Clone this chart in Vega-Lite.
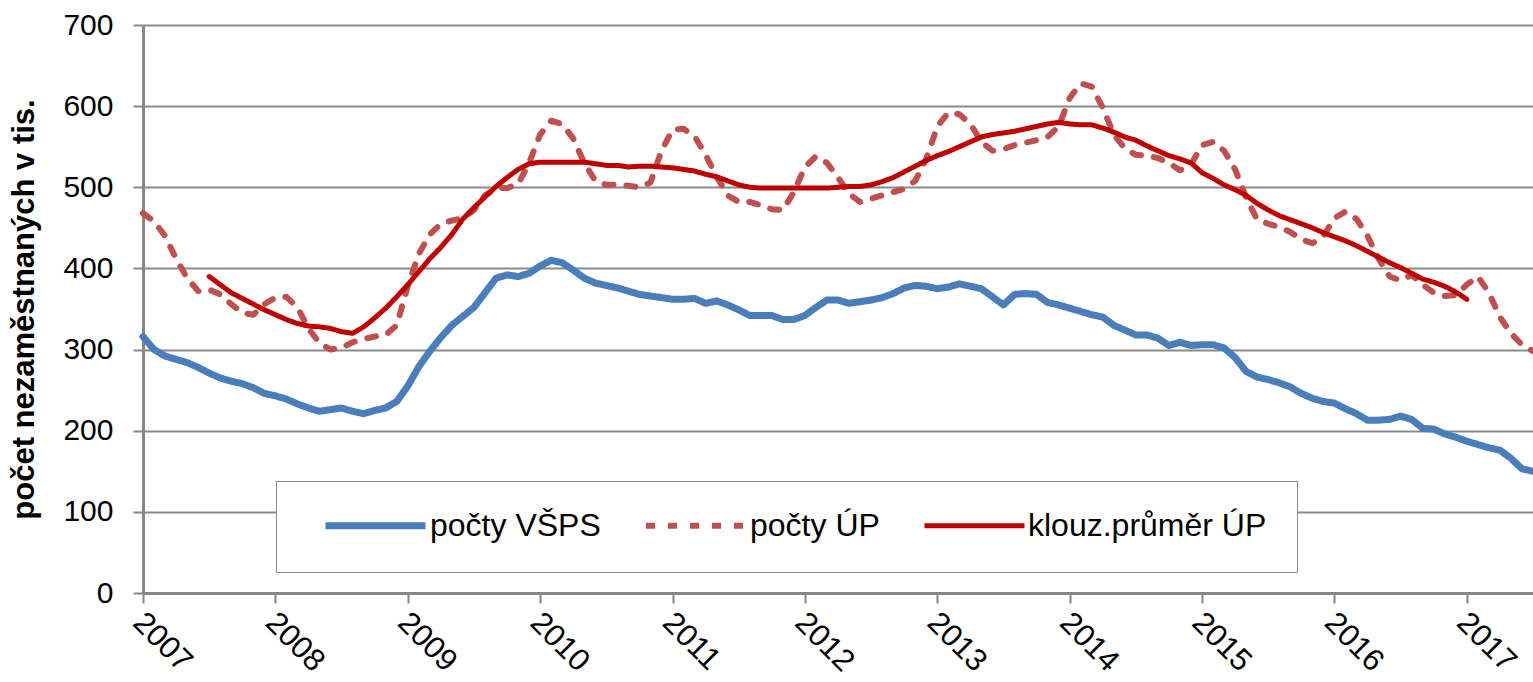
{
"$schema": "https://vega.github.io/schema/vega-lite/v6.json",
"width": 1390, "height": 568,
"autosize": {"type": "none"},
"padding": {"left": 143, "top": 25, "right": 0, "bottom": 89},
"background": "white",
"config": {"view": {"stroke": null}, "font": "Liberation Sans"},
"data": {"values": [
{"t":2007,"VSPS":316,"UP":468,"MA":null},
{"t":2007.0833,"VSPS":300,"UP":458,"MA":null},
{"t":2007.1667,"VSPS":292,"UP":440,"MA":null},
{"t":2007.25,"VSPS":288,"UP":412,"MA":null},
{"t":2007.3333,"VSPS":284,"UP":388,"MA":null},
{"t":2007.4167,"VSPS":278,"UP":372,"MA":null},
{"t":2007.5,"VSPS":271,"UP":374,"MA":390},
{"t":2007.5833,"VSPS":265,"UP":368,"MA":380},
{"t":2007.6667,"VSPS":261,"UP":356,"MA":370},
{"t":2007.75,"VSPS":258,"UP":345,"MA":363},
{"t":2007.8333,"VSPS":253,"UP":343,"MA":356},
{"t":2007.9167,"VSPS":246,"UP":356,"MA":349},
{"t":2008,"VSPS":243,"UP":364,"MA":343},
{"t":2008.0833,"VSPS":239,"UP":365,"MA":337},
{"t":2008.1667,"VSPS":233,"UP":352,"MA":332},
{"t":2008.25,"VSPS":228,"UP":326,"MA":329},
{"t":2008.3333,"VSPS":224,"UP":308,"MA":328},
{"t":2008.4167,"VSPS":226,"UP":300,"MA":326},
{"t":2008.5,"VSPS":228,"UP":302,"MA":322},
{"t":2008.5833,"VSPS":224,"UP":309,"MA":320},
{"t":2008.6667,"VSPS":221,"UP":313,"MA":328},
{"t":2008.75,"VSPS":225,"UP":316,"MA":339},
{"t":2008.8333,"VSPS":228,"UP":318,"MA":351},
{"t":2008.9167,"VSPS":236,"UP":330,"MA":365},
{"t":2009,"VSPS":255,"UP":378,"MA":380},
{"t":2009.0833,"VSPS":279,"UP":418,"MA":396},
{"t":2009.1667,"VSPS":298,"UP":442,"MA":412},
{"t":2009.25,"VSPS":315,"UP":455,"MA":426},
{"t":2009.3333,"VSPS":330,"UP":459,"MA":442},
{"t":2009.4167,"VSPS":341,"UP":462,"MA":461},
{"t":2009.5,"VSPS":352,"UP":472,"MA":475},
{"t":2009.5833,"VSPS":370,"UP":490,"MA":488},
{"t":2009.6667,"VSPS":388,"UP":499,"MA":501},
{"t":2009.75,"VSPS":392,"UP":499,"MA":512},
{"t":2009.8333,"VSPS":390,"UP":504,"MA":522},
{"t":2009.9167,"VSPS":394,"UP":530,"MA":529},
{"t":2010,"VSPS":403,"UP":565,"MA":531},
{"t":2010.0833,"VSPS":410,"UP":582,"MA":531},
{"t":2010.1667,"VSPS":407,"UP":578,"MA":531},
{"t":2010.25,"VSPS":398,"UP":560,"MA":531},
{"t":2010.3333,"VSPS":388,"UP":530,"MA":531},
{"t":2010.4167,"VSPS":382,"UP":508,"MA":529},
{"t":2010.5,"VSPS":379,"UP":503,"MA":527},
{"t":2010.5833,"VSPS":376,"UP":503,"MA":527},
{"t":2010.6667,"VSPS":372,"UP":502,"MA":525},
{"t":2010.75,"VSPS":368,"UP":500,"MA":526},
{"t":2010.8333,"VSPS":366,"UP":506,"MA":526},
{"t":2010.9167,"VSPS":364,"UP":545,"MA":525},
{"t":2011,"VSPS":362,"UP":571,"MA":524},
{"t":2011.0833,"VSPS":362,"UP":572,"MA":522},
{"t":2011.1667,"VSPS":363,"UP":563,"MA":520},
{"t":2011.25,"VSPS":357,"UP":540,"MA":516},
{"t":2011.3333,"VSPS":360,"UP":513,"MA":513},
{"t":2011.4167,"VSPS":355,"UP":490,"MA":508},
{"t":2011.5,"VSPS":349,"UP":482,"MA":503},
{"t":2011.5833,"VSPS":342,"UP":482,"MA":500},
{"t":2011.6667,"VSPS":342,"UP":478,"MA":499},
{"t":2011.75,"VSPS":342,"UP":473,"MA":499},
{"t":2011.8333,"VSPS":337,"UP":472,"MA":499},
{"t":2011.9167,"VSPS":337,"UP":494,"MA":499},
{"t":2012,"VSPS":342,"UP":525,"MA":499},
{"t":2012.0833,"VSPS":352,"UP":538,"MA":499},
{"t":2012.1667,"VSPS":361,"UP":530,"MA":499},
{"t":2012.25,"VSPS":361,"UP":512,"MA":500},
{"t":2012.3333,"VSPS":357,"UP":492,"MA":501},
{"t":2012.4167,"VSPS":359,"UP":482,"MA":501},
{"t":2012.5,"VSPS":361,"UP":486,"MA":503},
{"t":2012.5833,"VSPS":364,"UP":490,"MA":507},
{"t":2012.6667,"VSPS":369,"UP":494,"MA":512},
{"t":2012.75,"VSPS":376,"UP":498,"MA":519},
{"t":2012.8333,"VSPS":379,"UP":508,"MA":526},
{"t":2012.9167,"VSPS":378,"UP":535,"MA":533},
{"t":2013,"VSPS":375,"UP":575,"MA":539},
{"t":2013.0833,"VSPS":377,"UP":592,"MA":544},
{"t":2013.1667,"VSPS":381,"UP":590,"MA":550},
{"t":2013.25,"VSPS":378,"UP":578,"MA":556},
{"t":2013.3333,"VSPS":375,"UP":556,"MA":562},
{"t":2013.4167,"VSPS":365,"UP":545,"MA":565},
{"t":2013.5,"VSPS":355,"UP":547,"MA":567},
{"t":2013.5833,"VSPS":368,"UP":552,"MA":569},
{"t":2013.6667,"VSPS":369,"UP":555,"MA":572},
{"t":2013.75,"VSPS":368,"UP":558,"MA":575},
{"t":2013.8333,"VSPS":358,"UP":562,"MA":578},
{"t":2013.9167,"VSPS":355,"UP":575,"MA":580},
{"t":2014,"VSPS":351,"UP":610,"MA":578},
{"t":2014.0833,"VSPS":347,"UP":628,"MA":577},
{"t":2014.1667,"VSPS":343,"UP":624,"MA":577},
{"t":2014.25,"VSPS":340,"UP":598,"MA":573},
{"t":2014.3333,"VSPS":330,"UP":565,"MA":568},
{"t":2014.4167,"VSPS":324,"UP":548,"MA":562},
{"t":2014.5,"VSPS":318,"UP":540,"MA":558},
{"t":2014.5833,"VSPS":318,"UP":539,"MA":551},
{"t":2014.6667,"VSPS":314,"UP":536,"MA":545},
{"t":2014.75,"VSPS":305,"UP":530,"MA":539},
{"t":2014.8333,"VSPS":309,"UP":521,"MA":535},
{"t":2014.9167,"VSPS":305,"UP":528,"MA":530},
{"t":2015,"VSPS":306,"UP":552,"MA":518},
{"t":2015.0833,"VSPS":306,"UP":556,"MA":511},
{"t":2015.1667,"VSPS":302,"UP":545,"MA":503},
{"t":2015.25,"VSPS":290,"UP":522,"MA":497},
{"t":2015.3333,"VSPS":273,"UP":487,"MA":490},
{"t":2015.4167,"VSPS":266,"UP":460,"MA":480},
{"t":2015.5,"VSPS":263,"UP":455,"MA":472},
{"t":2015.5833,"VSPS":259,"UP":451,"MA":465},
{"t":2015.6667,"VSPS":254,"UP":445,"MA":460},
{"t":2015.75,"VSPS":246,"UP":436,"MA":455},
{"t":2015.8333,"VSPS":240,"UP":431,"MA":450},
{"t":2015.9167,"VSPS":236,"UP":440,"MA":444},
{"t":2016,"VSPS":234,"UP":462,"MA":439},
{"t":2016.0833,"VSPS":227,"UP":470,"MA":434},
{"t":2016.1667,"VSPS":221,"UP":461,"MA":428},
{"t":2016.25,"VSPS":213,"UP":440,"MA":421},
{"t":2016.3333,"VSPS":213,"UP":412,"MA":414},
{"t":2016.4167,"VSPS":214,"UP":390,"MA":407},
{"t":2016.5,"VSPS":218,"UP":385,"MA":401},
{"t":2016.5833,"VSPS":214,"UP":392,"MA":394},
{"t":2016.6667,"VSPS":203,"UP":380,"MA":387},
{"t":2016.75,"VSPS":202,"UP":370,"MA":383},
{"t":2016.8333,"VSPS":196,"UP":366,"MA":378},
{"t":2016.9167,"VSPS":192,"UP":367,"MA":371},
{"t":2017,"VSPS":187,"UP":380,"MA":362},
{"t":2017.0833,"VSPS":183,"UP":390,"MA":null},
{"t":2017.1667,"VSPS":179,"UP":370,"MA":null},
{"t":2017.25,"VSPS":176,"UP":340,"MA":null},
{"t":2017.3333,"VSPS":166,"UP":320,"MA":null},
{"t":2017.4167,"VSPS":153,"UP":306,"MA":null},
{"t":2017.5,"VSPS":150,"UP":298,"MA":null}
]},
"transform": [{"fold": ["VSPS", "UP", "MA"], "as": ["series", "value"]}],
"mark": {"type": "line", "strokeCap": "round", "strokeJoin": "round"},
"encoding": {
  "x": {"field": "t", "type": "quantitative",
    "scale": {"domain": [2007, 2017.5], "nice": false, "zero": false},
    "axis": {"values": [2007,2008,2009,2010,2011,2012,2013,2014,2015,2016,2017], "format": "d", "title": null, "grid": false,
      "domainColor": "#878787", "domainWidth": 3, "tickColor": "#878787", "tickWidth": 2, "tickSize": 10,
      "labelAngle": 45, "labelAlign": "left", "labelBaseline": "top", "labelFontSize": 31, "labelColor": "black",
      "labelPadding": 4, "labelOffset": 5, "labelFlush": false, "labelOverlap": false, "labelFont": "Liberation Sans"}},
  "y": {"field": "value", "type": "quantitative",
    "scale": {"domain": [0, 700], "nice": false},
    "axis": {"values": [0,100,200,300,400,500,600,700], "title": "počet nezaměstnaných v tis.",
      "titleFontSize": 31, "titleFontWeight": "bold", "titleColor": "black", "titlePadding": 22, "titleFont": "Liberation Sans",
      "gridColor": "#8a8a8a", "gridWidth": 2, "domainColor": "#878787", "domainWidth": 3,
      "tickColor": "#878787", "tickWidth": 2, "tickSize": 10, "labelFontSize": 30, "labelPadding": 20, "labelColor": "black", "labelFont": "Liberation Sans"}},
  "color": {"field": "series", "type": "nominal",
    "scale": {"domain": ["VSPS", "UP", "MA"], "range": ["#4a7ebb", "#c0504d", "#c00000"]},
    "legend": {"title": null, "orient": "none", "legendX": 133, "legendY": 456, "direction": "horizontal",
      "padding": 30, "strokeColor": "#8a8a8a", "fillColor": "white", "clipHeight": 29,
      "symbolType": "stroke", "symbolSize": 10000, "symbolOffset": 16, "labelFontSize": 32, "labelFont": "Liberation Sans", "labelColor": "black",
      "labelOffset": 1, "columnPadding": 26, "labelLimit": 400,
      "labelExpr": "datum.value === 'VSPS' ? 'počty VŠPS' : datum.value === 'UP' ? 'počty ÚP' : 'klouz.průměr ÚP'"}},
  "strokeDash": {"field": "series", "type": "nominal",
    "scale": {"domain": ["VSPS", "UP", "MA"], "range": [[1, 0], [9, 13], [1, 0]]}},
  "strokeWidth": {"field": "series", "type": "nominal",
    "scale": {"domain": ["VSPS", "UP", "MA"], "range": [7, 5, 4]}}
}
}
